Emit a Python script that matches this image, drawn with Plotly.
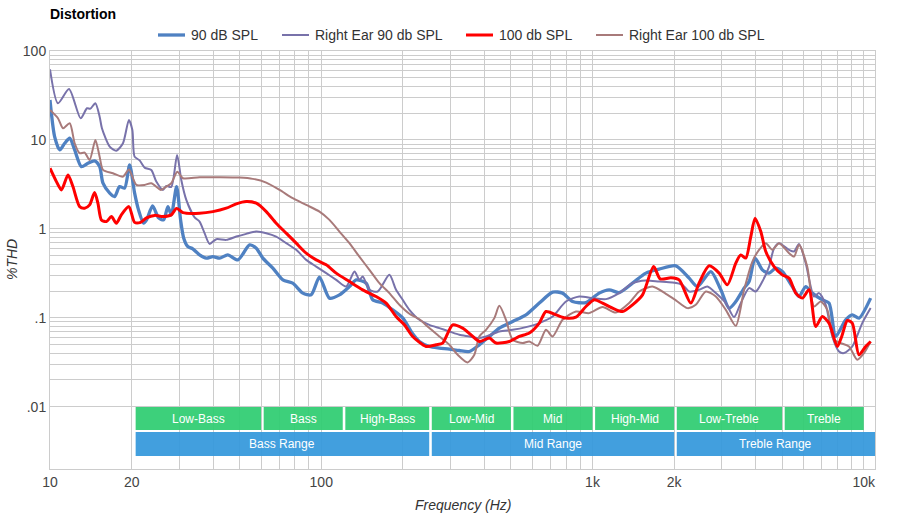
import math
import plotly.graph_objects as go

# ---------------- data (frequency in Hz, distortion in %THD) ----------------
freq_90 = [10.0, 10.4, 10.86, 11.33, 11.82, 12.33, 13.05, 13.8, 14.6, 15.24, 15.68, 16.6, 17.31, 18.06, 18.84,
           19.66, 20.5, 21.2, 22.13, 22.7, 23.89, 25.14, 26.24, 27.2, 28.0, 29.29, 30.3, 31.1, 32.2, 33.6, 35.6,
           37.7, 39.85, 42.2, 45.25, 49.3, 54.4, 57.6, 60.9, 66.3, 72.2, 78.5, 85.5, 91.8, 98.5, 107.2, 116.7,
           127, 134.5, 146.4, 154.8, 168.5, 183.4, 199.6, 217.3, 230, 250.3, 272.5, 296.7, 322.8, 351.5, 382.5,
           416.4, 453.4, 507.5, 568.5, 636.5, 712.5, 775.5, 843.9, 945.6, 1058, 1152, 1254, 1404, 1573, 1761,
           2029, 2271, 2437, 2730, 2972, 3188, 3375, 3621, 3778, 3975, 4228, 4476, 4738, 5008, 5453, 5772, 6109,
           6460, 7033, 7445, 7880, 8578, 9070, 9600, 10600]
thd_90 = [28.1, 10.9, 7.72, 9.18, 10.45, 7.72, 5.01, 5.47, 5.81, 5.01, 3.26, 2.52, 2.31, 2.99, 2.87, 5.24, 2.54,
          1.635, 1.159, 1.262, 1.813, 1.329, 1.262, 1.78, 1.437, 2.99, 1.262, 0.792, 0.633, 0.596, 0.51, 0.469,
          0.488, 0.469, 0.51, 0.448, 0.661, 0.607, 0.469, 0.362, 0.267, 0.245, 0.1895, 0.1813, 0.2866, 0.1665,
          0.1813, 0.2247, 0.267, 0.245, 0.1593, 0.1463, 0.123, 0.1, 0.0661, 0.0542, 0.0476, 0.0457, 0.0445,
          0.0429, 0.0418, 0.0497, 0.0617, 0.0766, 0.0909, 0.108, 0.1463, 0.1944, 0.1895, 0.1524, 0.1485, 0.1895,
          0.2064, 0.1924, 0.245, 0.318, 0.3526, 0.384, 0.2793, 0.2247, 0.3314, 0.2064, 0.1285, 0.1524, 0.2157,
          0.2557, 0.469, 0.346, 0.318, 0.362, 0.3314, 0.2247, 0.1735, 0.2247, 0.1895, 0.1593, 0.1463, 0.0617,
          0.095, 0.108, 0.0992, 0.1665]

freq_r90 = [10.0, 10.7, 11.75, 12.97, 13.69, 14.09, 14.7, 15.24, 15.54, 16.6, 17.56, 18.58, 19.54, 20.12, 20.5,
            21.4, 22.38, 23.63, 24.65, 26.08, 26.84, 28.0, 29.41, 30.48, 31.8, 34.12, 35.6, 37.14, 38.75, 41.03,
            44.65, 48.62, 52.9, 57.6, 62.7, 68.2, 74.26, 80.85, 88.0, 95.8, 104.3, 113.5, 123.5, 132.6, 138.2,
            142.2, 150.5, 161.5, 178.3, 188.7, 199.6, 211.3, 230, 250.3, 272.5, 296.7, 322.8, 351.5, 377, 405,
            453.4, 507.5, 568.5, 636.5, 712.5, 798, 893, 1000, 1121, 1254, 1404, 1573, 1761, 1971, 2146, 2271,
            2472, 2652, 2848, 3100, 3325, 3521, 3778, 3999, 4228, 4476, 4670, 4871, 5304, 5533, 5772, 6109, 6556,
            6839, 7240, 7656, 8105, 8455, 9070, 9874, 10600]
thd_r90 = [62.3, 25.85, 37.4, 17.52, 22.71, 22.47, 25.85, 18.27, 13.53, 8.41, 7.58, 9.18, 16.78, 12.95, 6.49,
           5.89, 4.85, 4.6, 3.40, 2.74, 3.04, 2.96, 6.78, 3.55, 2.12, 1.346, 1.208, 0.895, 0.678, 0.766, 0.752,
           0.819, 0.879, 0.933, 0.895, 0.819, 0.691, 0.581, 0.448, 0.377, 0.318, 0.267, 0.2247, 0.331, 0.267,
           0.291, 0.2064, 0.1975, 0.304, 0.2064, 0.1593, 0.123, 0.095, 0.0834, 0.0766, 0.0702, 0.0644, 0.0617,
           0.0592, 0.0617, 0.0702, 0.0733, 0.0786, 0.0872, 0.1034, 0.1524, 0.1735, 0.1665, 0.1622, 0.1895, 0.245,
           0.2624, 0.2557, 0.2492, 0.2349, 0.1975, 0.2064, 0.2247, 0.1895, 0.1463, 0.1018, 0.1463, 0.2157, 0.1975,
           0.2557, 0.377, 0.607, 0.691, 0.581, 0.556, 0.678, 0.412, 0.1735, 0.1895, 0.14, 0.0617, 0.0418, 0.0401,
           0.0476, 0.0872, 0.1285]

freq_100 = [10.0, 10.56, 11.02, 11.65, 12.15, 12.86, 13.42, 14.0, 14.6, 15.02, 15.47, 16.14, 16.84, 17.56, 18.32,
            19.54, 20.5, 21.59, 22.7, 24.3, 26.08, 28.0, 29.29, 30.9, 35.6, 39.85, 44.65, 48.62, 52.9, 57.6, 62.7,
            68.2, 74.26, 80.85, 88.0, 95.8, 104.3, 113.5, 127, 142.2, 159.3, 173.4, 188.7, 202.5, 217.3, 243.4,
            265, 280.3, 305.1, 332, 356.6, 382.5, 416.4, 441, 493.4, 537, 584.8, 636.5, 673.6, 733.5, 798, 868.8,
            945.6, 1015, 1089, 1185, 1290, 1404, 1529, 1680, 1776, 1945, 2086, 2304, 2472, 2691, 2929, 3141, 3375,
            3521, 3673, 3833, 3975, 4172, 4353, 4670, 5008, 5304, 5614, 5937, 6284, 6651, 7033, 7445, 7988, 8292,
            8697, 9070, 9600, 10163, 10600]
thd_100 = [4.81, 3.40, 2.74, 4.04, 2.99, 1.78, 1.708, 1.862, 2.56, 1.945, 1.262, 1.208, 1.375, 1.159, 1.437,
           1.78, 1.183, 1.183, 1.329, 1.418, 1.375, 1.437, 1.70, 1.524, 1.5, 1.564, 1.708, 1.91, 2.03, 1.945,
           1.564, 1.159, 0.895, 0.691, 0.533, 0.448, 0.394, 0.318, 0.2557, 0.2064, 0.1735, 0.1463, 0.1034, 0.0834,
           0.0617, 0.0476, 0.0497, 0.052, 0.0834, 0.0766, 0.0644, 0.0542, 0.0592, 0.052, 0.0542, 0.0617, 0.0673,
           0.0872, 0.1177, 0.108, 0.0992, 0.1018, 0.134, 0.1593, 0.1463, 0.1285, 0.1177, 0.14, 0.1813, 0.377,
           0.274, 0.2815, 0.267, 0.1463, 0.2473, 0.384, 0.318, 0.2349, 0.412, 0.51, 0.469, 0.819, 1.319, 0.933,
           0.556, 0.377, 0.304, 0.2793, 0.1895, 0.1665, 0.2064, 0.0798, 0.1034, 0.0872, 0.0476, 0.0617, 0.0933,
           0.0872, 0.0384, 0.0476, 0.0542]

freq_r100 = [10.0, 10.7, 11.17, 11.82, 12.33, 12.86, 13.42, 14.0, 14.7, 15.24, 15.68, 17.06, 18.58, 19.54, 20.34,
             20.81, 22.33, 23.63, 25.64, 26.84, 28.0, 29.46, 30.9, 35.6, 42.2, 49.97, 55.9, 62.7, 70.2, 78.5, 88.0,
             98.5, 107.2, 116.7, 127, 138.2, 150.5, 163.8, 178.3, 194.1, 211.3, 230, 250.3, 272.5, 296.7, 318.3,
             346.4, 366.7, 382.5, 405, 434.6, 453.4, 479.8, 507.5, 552.4, 584.8, 627.3, 673.6, 712.5, 775.5,
             868.8, 972, 1089, 1220, 1365, 1486, 1663, 1864, 2029, 2238, 2403, 2617, 2848, 3100, 3375, 3621, 3885,
             4111, 4353, 4603, 4871, 5304, 5533, 5772, 6187, 6556, 6940, 7338, 7769, 8222, 8823, 9465, 10016, 10600]
thd_r100 = [21.74, 17.52, 13.53, 15.41, 9.18, 7.09, 7.2, 5.96, 10, 6.49, 4.6, 4.22, 3.87, 4.66, 3.55, 3.12, 3.12,
            3.26, 2.74, 2.99, 3.26, 4.40, 3.71, 3.81, 3.81, 3.77, 3.65, 3.31, 2.74, 2.21, 1.862, 1.564, 1.262,
            0.933, 0.691, 0.488, 0.346, 0.245, 0.1895, 0.14, 0.111, 0.0962, 0.0766, 0.0617, 0.0497, 0.0384, 0.0315,
            0.0384, 0.0617, 0.0733, 0.0992, 0.1364, 0.095, 0.0566, 0.052, 0.0542, 0.0484, 0.0733, 0.0617, 0.095,
            0.1177, 0.1129, 0.1319, 0.1147, 0.1463, 0.1975, 0.2247, 0.1862, 0.1573, 0.1285, 0.14, 0.1975, 0.1735,
            0.123, 0.0813, 0.2064, 0.429, 0.581, 0.691, 0.581, 0.691, 0.533, 0.488, 0.661, 0.377, 0.134, 0.1524,
            0.123, 0.0566, 0.052, 0.0476, 0.0337, 0.0401, 0.0542]

series_names = ["90 dB SPL", "Right Ear 90 db SPL", "100 db SPL", "Right Ear 100 db SPL"]

# frequency bands
band_names = ["Low-Bass", "Bass", "High-Bass", "Low-Mid", "Mid", "High-Mid", "Low-Treble", "Treble"]
band_edges = [20, 60, 120, 250, 500, 1000, 2000, 5000, 10000]
range_names = ["Bass Range", "Mid Range", "Treble Range"]
range_edges = [20, 250, 2000, 11000]

# tick labels
x_label_vals = [10, 20, 100, 1000, 2000, 10000]
x_label_text = ["10", "20", "100", "1k", "2k", "10k"]
y_label_vals = [0.01, 0.1, 1, 10, 100]
y_label_text = [".01", ".1", "1", "10", "100"]

# ---------------- styling ----------------
FONT = "Arial, Liberation Sans, sans-serif"
GRID = "#cccccc"
X_MIN, X_MAX = 10, 11000
Y_LOG_MIN, Y_LOG_MAX = -2.7, 2.0
W, H = 900, 520
ML, MR, MT, MB = 50, 25, 51, 51
PW, PH = W - ML - MR, H - MT - MB


def px_to_paper_x(px):
    return (px - ML) / PW


def px_to_paper_y(py):
    return (H - MB - py) / PH


# all grid positions (1..9 times each decade)
x_grid = [m * 10 ** e for e in range(1, 5) for m in range(1, 10) if m * 10 ** e <= 10000]
y_grid = [round(m * 10 ** e, 6) for e in range(-2, 2) for m in range(1, 10)] + [100]


def label_for(v, vals, texts):
    for lv, lt in zip(vals, texts):
        if abs(v - lv) / lv < 1e-6:
            return lt
    return ""


styles = {
    "90 dB SPL": dict(color="#4f81c2", width=3.3),
    "Right Ear 90 db SPL": dict(color="#7872aa", width=2),
    "100 db SPL": dict(color="#ff0000", width=3),
    "Right Ear 100 db SPL": dict(color="#a87a7a", width=2),
}
data = {
    "90 dB SPL": (freq_90, thd_90),
    "Right Ear 90 db SPL": (freq_r90, thd_r90),
    "100 db SPL": (freq_100, thd_100),
    "Right Ear 100 db SPL": (freq_r100, thd_r100),
}

fig = go.Figure()
draw_order = ["90 dB SPL", "Right Ear 90 db SPL", "Right Ear 100 db SPL", "100 db SPL"]
for name in draw_order:
    xs, ys = data[name]
    fig.add_trace(go.Scatter(
        x=xs, y=ys, name=name, mode="lines", showlegend=False,
        line=dict(color=styles[name]["color"], width=styles[name]["width"], shape="spline", smoothing=0.7),
    ))

shapes = []
annotations = []

# bands (shapes in data x, paper y); each band starts a few px after its lower edge
start_gap = 10 ** (2.6 / 271.5)
first_gap = 10 ** (4.0 / 271.5)
for i, nm in enumerate(band_names):
    x0 = band_edges[i] * (first_gap if i == 0 else start_gap)
    x1 = band_edges[i + 1]
    shapes.append(dict(type="rect", xref="x", yref="paper", x0=x0, x1=x1,
                       y0=px_to_paper_y(430), y1=px_to_paper_y(407),
                       fillcolor="rgba(46,204,113,0.93)", line=dict(width=0), layer="above"))
    annotations.append(dict(x=(math.log10(x0) + math.log10(x1)) / 2, y=px_to_paper_y(418.5), xref="x",
                            yref="paper", xanchor="center", yanchor="middle",
                            text=nm, showarrow=False, font=dict(family=FONT, size=12, color="white")))
for i, nm in enumerate(range_names):
    x0 = range_edges[i] * (first_gap if i == 0 else start_gap)
    x1 = range_edges[i + 1]
    shapes.append(dict(type="rect", xref="x", yref="paper", x0=x0, x1=x1,
                       y0=px_to_paper_y(456), y1=px_to_paper_y(432),
                       fillcolor="rgba(52,152,219,0.93)", line=dict(width=0), layer="above"))
    annotations.append(dict(x=(math.log10(x0) + math.log10(x1)) / 2, y=px_to_paper_y(444), xref="x",
                            yref="paper", xanchor="center", yanchor="middle",
                            text=nm, showarrow=False, font=dict(family=FONT, size=12, color="white")))

# legend (drawn manually to match the original spacing)
legend_line_px = [158, 282, 466, 596]
legend_y = px_to_paper_y(35)
for name, lx in zip(series_names, legend_line_px):
    shapes.append(dict(type="line", xref="paper", yref="paper",
                       x0=px_to_paper_x(lx), x1=px_to_paper_x(lx + 27), y0=legend_y, y1=legend_y,
                       line=dict(color=styles[name]["color"], width=styles[name]["width"])))
    annotations.append(dict(x=px_to_paper_x(lx + 31), y=legend_y, xref="paper", yref="paper",
                            xanchor="left", yanchor="middle", text=name, showarrow=False,
                            font=dict(family=FONT, size=14, color="#333333")))

# axis titles
annotations.append(dict(x=px_to_paper_x(12), y=0.5, xref="paper", yref="paper", text="<i>%THD</i>",
                        textangle=-90, xanchor="center", yanchor="middle",
                        showarrow=False, font=dict(family=FONT, size=14, color="#333333")))
annotations.append(dict(x=0.5, y=px_to_paper_y(505), xref="paper", yref="paper", text="<i>Frequency (Hz)</i>",
                        xanchor="center", yanchor="middle",
                        showarrow=False, font=dict(family=FONT, size=14, color="#333333")))

fig.update_layout(
    width=W, height=H,
    margin=dict(l=ML, r=MR, t=MT, b=MB, autoexpand=False),
    paper_bgcolor="white", plot_bgcolor="white",
    title=dict(text="<b>Distortion</b>", xref="container", x=50 / W, xanchor="left",
               yref="container", y=1 - 14 / H, yanchor="middle",
               font=dict(family=FONT, size=14, color="#000000")),
    shapes=shapes, annotations=annotations,
    showlegend=False,
)

fig.update_xaxes(
    type="log", range=[math.log10(X_MIN), math.log10(X_MAX)],
    tickmode="array", tickvals=x_grid, ticktext=[label_for(v, x_label_vals, x_label_text) for v in x_grid],
    showgrid=True, gridcolor=GRID, gridwidth=1, zeroline=False,
    showline=True, linecolor=GRID, linewidth=1, mirror=True, ticks="",
    tickfont=dict(family=FONT, size=14, color="#444444"),
)
fig.update_yaxes(
    type="log", range=[Y_LOG_MIN, Y_LOG_MAX],
    tickmode="array", tickvals=y_grid, ticktext=[label_for(v, y_label_vals, y_label_text) for v in y_grid],
    showgrid=True, gridcolor=GRID, gridwidth=1, zeroline=False,
    showline=True, linecolor=GRID, linewidth=1, mirror=True, ticks="",
    tickfont=dict(family=FONT, size=14, color="#444444"),
)

fig.write_html("out.html", config={"displayModeBar": False},
               post_script="document.body.style.margin='0px';")
